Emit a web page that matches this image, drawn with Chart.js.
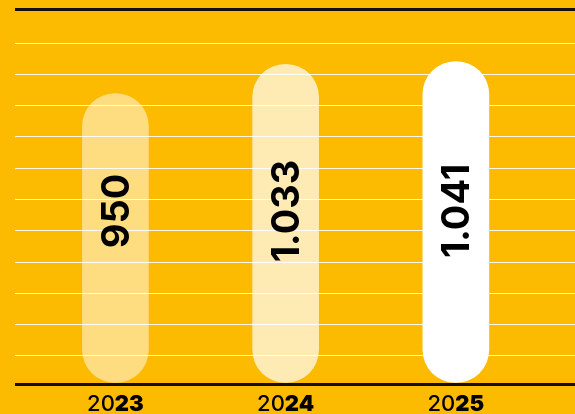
<!DOCTYPE html>
<html>
<head>
<meta charset="utf-8">
<script src="https://cdn.jsdelivr.net/npm/chart.js@4.4.1/dist/chart.umd.min.js"></script>
<style>
    html, body { margin: 0; padding: 0; background: #FCBA00; }
    #wrap { width: 575px; height: 414px; position: relative; }
</style>
</head>
<body>
<div id="wrap"><canvas id="chart"></canvas></div>
<script>
// data
const years = ['2023', '2024', '2025'];
const values = [950, 1033, 1041];
const valueLabels = ['950', '1.033', '1.041'];
const barColors = ['rgba(255,255,255,0.5)', 'rgba(255,255,255,0.7)', '#ffffff'];

const yMin = 125;
const yMax = 1190;
// white guide lines: first one a bit above the axis, then evenly spaced
const gridStart = 205;
const gridStep = 88.8;
const gridCount = 11;

// bar labels, rotated inside the pills
const barLabels = {
    id: 'barLabels',
    afterDatasetsDraw(chart) {
        const ctx = chart.ctx;
        const meta = chart.getDatasetMeta(0);
        ctx.save();
        ctx.fillStyle = '#000';
        ctx.font = 'bold 38px Inter';
        ctx.textAlign = 'center';
        ctx.textBaseline = 'middle';
        meta.data.forEach((bar, i) => {
            ctx.save();
            ctx.translate(bar.x + 1, 211);
            ctx.rotate(-Math.PI / 2);
            ctx.fillText(valueLabels[i], 0, 1);
            ctx.restore();
        });
        ctx.restore();
    }
};

// year labels: "20" normal, last two digits bold
const yearLabels = {
    id: 'yearLabels',
    afterDraw(chart) {
        const ctx = chart.ctx;
        const xScale = chart.scales.x;
        ctx.save();
        ctx.fillStyle = '#000';
        ctx.textBaseline = 'alphabetic';
        ctx.textAlign = 'left';
        years.forEach((y, i) => {
            const a = y.slice(0, 2), b = y.slice(2);
            ctx.font = '500 22px Inter';
            const wa = ctx.measureText(a).width;
            ctx.font = '900 22px Inter';
            const wb = ctx.measureText(b).width;
            const x0 = xScale.getPixelForValue(i) - (wa + wb) / 2;
            ctx.font = '500 22px Inter';
            ctx.fillText(a, x0, 411);
            ctx.font = '900 22px Inter';
            ctx.fillText(b, x0 + wa, 411);
        });
        ctx.restore();
    }
};

new Chart(document.getElementById('chart'), {
    type: 'bar',
    data: {
        datasets: [{
            data: values.map((v, i) => ({ x: i, y: v })),
            backgroundColor: barColors,
            base: yMin,
            barThickness: 66,
            borderRadius: 33,
            borderSkipped: false
        }]
    },
    options: {
        responsive: true,
        maintainAspectRatio: false,
        animation: false,
        layout: { padding: { left: 15, right: 0, top: 9, bottom: 30 } },
        plugins: { legend: { display: false }, tooltip: { enabled: false } },
        scales: {
            x: {
                type: 'linear',
                offset: false,
                min: -0.59,
                max: 2.7,
                display: false,
                grid: { display: false }
            },
            y: {
                min: yMin,
                max: yMax,
                afterBuildTicks: (scale) => {
                    const ticks = [{ value: yMin }];
                    for (let k = 0; k < gridCount; k++) ticks.push({ value: gridStart + gridStep * k });
                    ticks.push({ value: yMax });
                    scale.ticks = ticks;
                },
                ticks: { display: false },
                border: { display: false },
                grid: {
                    drawTicks: false,
                    color: (c) => (c.tick.value === yMin || c.tick.value === yMax) ? '#111' : 'rgba(255,255,255,0.9)',
                    lineWidth: (c) => (c.tick.value === yMin || c.tick.value === yMax) ? 3 : 1
                }
            }
        }
    },
    plugins: [barLabels, yearLabels]
});
</script>
</body>
</html>
